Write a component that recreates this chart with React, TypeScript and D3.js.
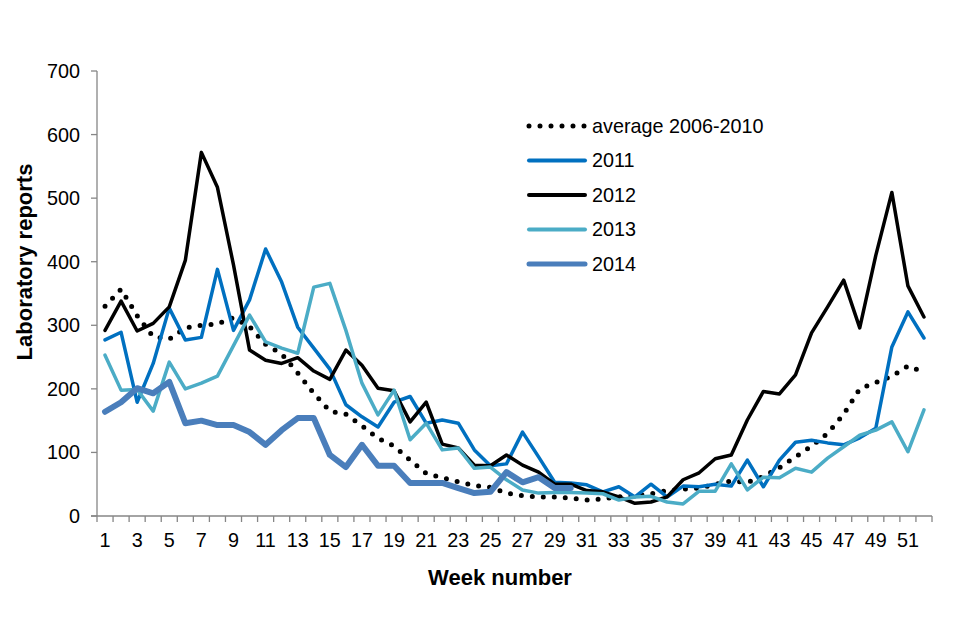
import React from 'react';
import * as d3 from 'd3';

const weeks = d3.range(1, 53);

const avg0610 = [330, 357, 315, 282, 278, 296, 300, 302, 312, 298, 270, 255, 225, 193, 165, 160, 142, 122, 110, 88, 67, 60, 54, 48, 45, 36, 32, 30, 30, 28, 25, 27, 30, 32, 35, 40, 42, 44, 50, 55, 53, 62, 76, 93, 110, 130, 160, 200, 210, 220, 236, 226];
const y2011 = [277, 289, 179, 240, 327, 277, 281, 388, 292, 340, 420, 368, 297, 264, 231, 175, 156, 140, 179, 188, 146, 151, 146, 104, 79, 82, 132, 93, 53, 52, 49, 38, 46, 30, 50, 30, 47, 46, 50, 47, 88, 46, 88, 116, 119, 115, 112, 123, 138, 266, 321, 280];
const y2012 = [292, 338, 291, 303, 329, 402, 572, 517, 395, 261, 245, 240, 249, 228, 215, 261, 237, 201, 197, 148, 179, 113, 107, 80, 79, 96, 80, 69, 50, 50, 40, 38, 30, 20, 22, 30, 57, 68, 90, 96, 151, 196, 192, 222, 288, 329, 371, 296, 410, 509, 362, 313];
const y2013 = [253, 198, 199, 165, 242, 200, 209, 220, 268, 316, 274, 264, 256, 360, 366, 292, 209, 159, 198, 120, 146, 104, 107, 75, 77, 57, 41, 36, 37, 37, 36, 35, 25, 30, 31, 22, 19, 39, 39, 82, 41, 61, 60, 75, 69, 91, 109, 127, 135, 148, 101, 167];
const y2014 = [164, 179, 201, 193, 211, 146, 150, 143, 143, 132, 112, 135, 154, 154, 96, 77, 112, 79, 79, 52, 52, 52, 44, 36, 38, 69, 53, 61, 44, 44];

const yTicks = [0, 100, 200, 300, 400, 500, 600, 700];

const series = [
  { name: 'average 2006-2010', values: avg0610, color: '#000000', width: 5, dash: '0 11' },
  { name: '2011', values: y2011, color: '#0070C0', width: 3.5, dash: null },
  { name: '2012', values: y2012, color: '#000000', width: 3.5, dash: null },
  { name: '2013', values: y2013, color: '#4BACC6', width: 3.5, dash: null },
  { name: '2014', values: y2014, color: '#4A7EBB', width: 6, dash: null },
];

const App: React.FC = () => {
  const width = 960;
  const height = 640;
  const left = 97;
  const right = 932;
  const top = 71;
  const bottom = 516;
  const font = 'Arial, "Liberation Sans", sans-serif';
  const fs = 19.8;

  const x = d3.scaleBand<number>().domain(weeks).range([left, right]).padding(0);
  const y = d3.scaleLinear().domain([0, 700]).range([bottom, top]);
  const cx = (w: number) => (x(w) as number) + x.bandwidth() / 2;

  const line = d3.line<number>()
    .x((_, i) => cx(weeks[i]))
    .y(d => y(d));

  const tickPos = weeks.map(w => x(w) as number).concat([right]);

  return (
    <div style={{ position: 'absolute', left: 0, top: 0 }}>
      <svg width={width} height={height} viewBox={`0 0 ${width} ${height}`} style={{ display: 'block', background: '#fff' }}>
        {/* y axis */}
        <line x1={left} x2={left} y1={top} y2={bottom} stroke="#868686" strokeWidth={1.3} />
        {yTicks.map(t => (
          <g key={t}>
            <line x1={left - 6} x2={left} y1={y(t)} y2={y(t)} stroke="#868686" strokeWidth={1.3} />
            <text x={80} y={y(t)} dy="0.35em" textAnchor="end" fontFamily={font} fontSize={fs} fill="#000">{t}</text>
          </g>
        ))}
        {/* x axis */}
        <line x1={left - 6} x2={right} y1={bottom} y2={bottom} stroke="#868686" strokeWidth={1.3} />
        {tickPos.map((p, i) => (
          <line key={i} x1={p} x2={p} y1={bottom} y2={bottom + 6} stroke="#868686" strokeWidth={1.3} />
        ))}
        {weeks.filter(w => w % 2 === 1).map(w => (
          <text key={w} x={cx(w)} y={540} dy="0.35em" textAnchor="middle" fontFamily={font} fontSize={fs} fill="#000">{w}</text>
        ))}

        {/* series */}
        {series.map(s => (
          <path
            key={s.name}
            d={line(s.values) || ''}
            fill="none"
            stroke={s.color}
            strokeWidth={s.width}
            strokeLinejoin="round"
            strokeLinecap="round"
            strokeDasharray={s.dash || undefined}
          />
        ))}

        {/* legend */}
        {series.map((s, i) => {
          const ly = 126 + i * 34.5;
          return (
            <g key={s.name}>
              <line x1={529} x2={585} y1={ly} y2={ly} stroke={s.color} strokeWidth={s.dash ? 5 : Math.min(s.width + 0.5, 5)}
                strokeLinecap="round" strokeDasharray={s.dash || undefined} />
              <text x={592} y={ly} dy="0.35em" fontFamily={font} fontSize={fs} fill="#000">{s.name}</text>
            </g>
          );
        })}

        {/* axis titles */}
        <text transform={`translate(32,262) rotate(-90)`} textAnchor="middle" fontFamily={font} fontSize={22} fontWeight="bold" fill="#000">Laboratory reports</text>
        <text x={500} y={577} dy="0.35em" textAnchor="middle" fontFamily={font} fontSize={22} fontWeight="bold" fill="#000">Week number</text>
      </svg>
    </div>
  );
};

export default App;
